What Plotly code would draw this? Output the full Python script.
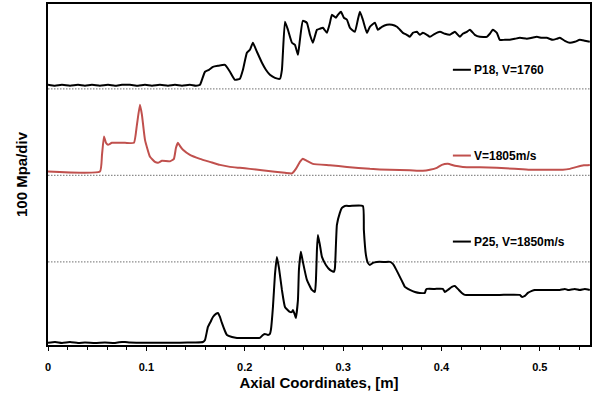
import plotly.graph_objects as go

# P18, V=1760 (top trace) : axial coordinate [m], plotted pressure [MPa incl. offset]
p18_x = [0.0, 0.0071, 0.0142, 0.0224, 0.0305, 0.0376, 0.0447, 0.0528, 0.0610, 0.0681, 0.0752, 0.0833,
         0.0915, 0.0986, 0.1057, 0.1138, 0.1220, 0.1291, 0.1362, 0.1443, 0.1504, 0.1545,
         0.1565, 0.1596, 0.1636, 0.1677, 0.1728, 0.1799, 0.1850, 0.1900, 0.1951, 0.1982, 0.2022, 0.2053,
         0.2083, 0.2124, 0.2175, 0.2215, 0.2256, 0.2307, 0.2358, 0.2378, 0.2409, 0.2439, 0.2480, 0.2510,
         0.2541, 0.2561, 0.2591, 0.2632, 0.2663, 0.2693, 0.2734, 0.2764, 0.2795, 0.2835, 0.2866, 0.2886,
         0.2927, 0.2947, 0.2978, 0.3008, 0.3039, 0.3069, 0.3089, 0.3120, 0.3150, 0.3171, 0.3201, 0.3242,
         0.3272, 0.3323, 0.3354, 0.3394, 0.3445, 0.3496, 0.3547, 0.3608, 0.3648, 0.3679, 0.3709, 0.3750,
         0.3780, 0.3811, 0.3852, 0.3882, 0.3933, 0.3984, 0.4035, 0.4085, 0.4136, 0.4187, 0.4217, 0.4258,
         0.4289, 0.4339, 0.4390, 0.4461, 0.4492, 0.4522, 0.4563, 0.4593, 0.4644, 0.4695, 0.4746, 0.4797,
         0.4868, 0.4919, 0.4970, 0.5020, 0.5071, 0.5132, 0.5173, 0.5203, 0.5254, 0.5305, 0.5356, 0.5407,
         0.5457, 0.5508]
p18_y = [304.6, 303.5, 304.6, 303.5, 304.6, 303.5, 304.6, 303.5, 304.6, 303.5, 304.6, 304.6,
         303.5, 304.6, 303.5, 304.6, 303.5, 304.6, 303.5, 304.6, 303.5, 304.6,
         310.4, 319.7, 322.0, 325.4, 326.6, 327.7, 319.7, 310.4, 311.6, 322.0, 341.6, 345.1,
         353.2, 342.8, 330.1, 322.0, 316.2, 312.7, 311.6, 322.0, 377.5, 368.2, 353.2, 350.9,
         339.3, 356.6, 378.6, 376.3, 362.4, 353.2, 368.2, 369.4, 370.5, 364.7, 376.3, 385.5,
         382.1, 385.5, 389.0, 382.1, 379.8, 370.5, 368.2, 365.9, 379.8, 389.0, 379.8, 364.7,
         371.7, 376.3, 368.2, 371.7, 374.0, 374.0, 371.7, 364.7, 362.4, 360.1, 364.7, 365.9,
         362.4, 364.7, 362.4, 360.1, 363.6, 365.9, 363.6, 362.4, 365.9, 360.1, 363.6, 365.9,
         368.2, 362.4, 360.1, 360.1, 363.6, 368.2, 364.7, 356.6, 356.6, 356.6, 357.8, 358.9,
         357.8, 358.9, 360.1, 358.9, 358.9, 356.6, 357.8, 358.9, 355.5, 353.2, 354.3, 356.6,
         355.5, 354.3]

# V=1805m/s (middle trace)
v1805_x = [0.0, 0.0528, 0.0549, 0.0569, 0.0589, 0.0610, 0.0650, 0.0783, 0.0874, 0.0904, 0.0935, 0.0955,
           0.0986, 0.1037, 0.1087, 0.1118, 0.1159, 0.1240, 0.1280, 0.1301, 0.1321, 0.1341, 0.1372, 0.1443,
           0.1545, 0.1646, 0.1748, 0.1850, 0.1951, 0.2053, 0.2175, 0.2307, 0.2409, 0.2480, 0.2520, 0.2561,
           0.2591, 0.2632, 0.2693, 0.2866, 0.3039, 0.3272, 0.3476, 0.3679, 0.3811, 0.3882, 0.3953,
           0.4004, 0.4065, 0.4136, 0.4217, 0.4390, 0.4563, 0.4746, 0.4898, 0.5102, 0.5234, 0.5305,
           0.5376, 0.5447, 0.5508]
v1805_y = [204.4, 204.4, 223.7, 244.9, 237.6, 235.3, 237.6, 237.6, 237.6, 258.4, 281.5, 269.9,
           241.0, 221.4, 215.6, 214.5, 216.8, 216.2, 219.1, 231.8, 237.6, 234.1, 229.5, 223.7,
           219.1, 215.6, 212.1, 209.8, 208.7, 207.5, 205.8, 204.1, 202.9, 202.3, 207.5, 215.6,
           219.1, 216.8, 213.3, 211.6, 209.8, 207.5, 206.4, 205.8, 205.2, 206.4, 208.7,
           212.1, 213.3, 211.0, 209.8, 209.3, 208.7, 207.5, 206.4, 206.4, 206.4, 207.5,
           209.8, 211.6, 212.1]

# P25, V=1850m/s (bottom trace)
p25_x = [0.0, 0.0071, 0.0142, 0.0224, 0.0305, 0.0376, 0.0478, 0.0579, 0.0681, 0.0752,
         0.0783, 0.0833, 0.0935, 0.1138, 0.1341, 0.1494, 0.1575, 0.1596, 0.1626, 0.1657,
         0.1677, 0.1707, 0.1728, 0.1748, 0.1768, 0.1799, 0.1819, 0.1870, 0.1921, 0.2053,
         0.2154, 0.2185, 0.2205, 0.2236, 0.2256, 0.2266, 0.2287, 0.2307, 0.2327, 0.2348,
         0.2378, 0.2409, 0.2459, 0.2480, 0.2490, 0.2510, 0.2520, 0.2541, 0.2551, 0.2571,
         0.2591, 0.2632, 0.2683, 0.2713, 0.2724, 0.2734, 0.2744, 0.2764, 0.2785, 0.2825,
         0.2866, 0.2907, 0.2917, 0.2937, 0.2967, 0.2988, 0.3018, 0.3069, 0.3201, 0.3211,
         0.3232, 0.3252, 0.3272, 0.3303, 0.3343, 0.3425, 0.3476, 0.3506, 0.3526, 0.3557,
         0.3577, 0.3608, 0.3628, 0.3659, 0.3679, 0.3730, 0.3780, 0.3831, 0.3841, 0.3852,
         0.3933, 0.4014, 0.4035, 0.4065, 0.4106, 0.4136, 0.4157, 0.4177, 0.4207, 0.4238,
         0.4390, 0.4593, 0.4797, 0.4817, 0.4848, 0.4878, 0.4919, 0.4949, 0.5102, 0.5203,
         0.5254, 0.5285, 0.5356, 0.5407, 0.5457, 0.5508]
p25_y = [6.7, 7.5, 6.4, 7.5, 6.4, 6.9, 6.4, 6.9, 6.4, 7.5,
         7.5, 6.9, 6.7, 6.7, 6.7, 6.9, 7.5, 9.8, 24.9, 31.8,
         36.4, 39.9, 41.1, 36.4, 29.5, 20.2, 15.6, 13.3, 12.2, 12.2,
         12.2, 15.6, 16.8, 15.6, 16.8, 21.4, 48.0, 85.0, 105.8, 93.1,
         67.6, 48.0, 42.2, 42.2, 44.5, 38.7, 35.2, 56.1, 90.8, 111.6,
         100.0, 79.2, 67.6, 65.3, 79.2, 113.9, 131.2, 119.7, 105.8, 96.5,
         90.8, 88.5, 93.1, 142.8, 156.7, 162.4, 164.7, 164.7, 164.7, 137.0,
         108.1, 98.9, 96.5, 98.9, 100.0, 100.0, 100.0, 97.7, 94.2, 87.3,
         82.7, 75.7, 71.1, 68.8, 67.6, 65.3, 64.2, 64.2, 67.6, 68.8,
         68.8, 68.8, 65.3, 67.6, 71.1, 72.3, 70.0, 67.6, 64.2, 61.9,
         61.9, 61.9, 61.9, 59.6, 60.7, 64.2, 66.5, 67.6, 67.6, 67.6,
         68.8, 67.6, 68.8, 67.6, 68.8, 67.6]

baselines = [300, 200, 100]
labels = ["P18, V=1760", "V=1805m/s", "P25, V=1850m/s"]
label_y = [322.0, 222.9, 123.5]
x_ticks = [0, 0.1, 0.2, 0.3, 0.4, 0.5]
x_ticktext = ["0", "0.1", "0.2", "0.3", "0.4", "0.5"]

RED = "#c0504d"
FONT = "Arial, Liberation Sans, Helvetica, sans-serif"

fig = go.Figure()
for b in baselines:
    fig.add_trace(go.Scatter(x=[0, 0.551], y=[b, b], mode="lines",
                             line=dict(color="#8c8c8c", width=1.2, dash="1.5px,1.5px"),
                             showlegend=False, hoverinfo="skip"))

series = [(p18_x, p18_y, "black"), (v1805_x, v1805_y, RED), (p25_x, p25_y, "black")]
for (xs, ys, c) in series:
    fig.add_trace(go.Scatter(x=xs, y=ys, mode="lines",
                             line=dict(color=c, width=2, shape="spline", smoothing=0.4),
                             showlegend=False))

# inline legend labels
colors = ["black", RED, "black"]
for lab, ly, c in zip(labels, label_y, colors):
    fig.add_shape(type="line", x0=0.4116, x1=0.4299, y0=ly, y1=ly, xref="x", yref="y",
                  line=dict(color=c, width=2))
    fig.add_annotation(x=0.4309, y=ly, xref="x", yref="y", text="<b>%s</b>" % lab,
                       showarrow=False, xanchor="left", yanchor="middle",
                       font=dict(family=FONT, size=12, color="black"))

fig.update_layout(
    width=598, height=400,
    margin=dict(l=48, r=8, t=4, b=55, autoexpand=False),
    paper_bgcolor="white", plot_bgcolor="white",
    font=dict(family=FONT, color="black"),
    showlegend=False,
)
fig.update_xaxes(range=[0, 0.551], showgrid=False, zeroline=False, automargin=False,
                 showline=True, mirror=True, linecolor="black", linewidth=2,
                 ticks="outside", ticklen=4, tickwidth=1, tickcolor="black",
                 tickvals=x_ticks, ticktext=["<b>%s</b>" % t for t in x_ticktext],
                 tickfont=dict(family=FONT, size=11), ticklabelstandoff=7,
                 minor=dict(ticks="outside", ticklen=3, dtick=0.02, tick0=0, tickcolor="black"),
                 title=dict(text="<b>Axial Coordinates, [m]</b>", font=dict(family=FONT, size=15),
                            standoff=5))
fig.update_yaxes(range=[4, 398], showgrid=False, zeroline=False, showticklabels=False, automargin=False,
                 showline=True, mirror=True, linecolor="black", linewidth=2, ticks="",
                 title=dict(text="<b>100 Mpa/div</b>", font=dict(family=FONT, size=15),
                            standoff=15))

fig.write_html("out.html", config={"displayModeBar": False},
               post_script="document.body.style.margin='0px';")
